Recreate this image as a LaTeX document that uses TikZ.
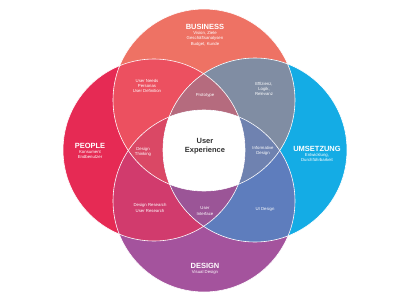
\documentclass[tikz,border=0pt]{standalone}
\usepackage{fontspec}
\setmainfont{Liberation Sans}
\definecolor{cT}{HTML}{EE7264}
\definecolor{cL}{HTML}{E62A54}
\definecolor{cR}{HTML}{14ACE5}
\definecolor{cB}{HTML}{A4539D}
\definecolor{cTL}{HTML}{EC5060}
\definecolor{cTR}{HTML}{808DA3}
\definecolor{cLB}{HTML}{D13B6D}
\definecolor{cRB}{HTML}{5E7DBD}
\definecolor{cTLR}{HTML}{B56B7E}
\definecolor{cTLB}{HTML}{DA4865}
\definecolor{cTRB}{HTML}{6F82B0}
\definecolor{cLRB}{HTML}{9B5597}
\definecolor{uxtext}{HTML}{333333}
\begin{document}
\begin{tikzpicture}[x=1pt,y=-1pt,
  title/.style={text=white,font=\bfseries\fontsize{7.5}{8}\selectfont,inner sep=0pt},
  sub/.style={text=white,align=center,font=\fontsize{4.3}{5.4}\selectfont,inner sep=0pt},
  ux/.style={text=uxtext,align=center,font=\bfseries\fontsize{7.5}{9}\selectfont,inner sep=0pt},
  rim/.style={draw=white,line width=0.6pt}]
\useasboundingbox (0,0) rectangle (400,300);
\def\cTop{(204,100) circle (91)}
\def\cLeft{(154,150) circle (91)}
\def\cRight{(255,150) circle (92)}
\def\cBot{(204,201) circle (91)}
% base circles
\fill[cT] \cTop;
\fill[cL] \cLeft;
\fill[cR] \cRight;
\fill[cB] \cBot;
% pairs
\begin{scope}\clip \cTop; \fill[cTL] \cLeft; \fill[cTR] \cRight; \end{scope}
\begin{scope}\clip \cBot; \fill[cLB] \cLeft; \fill[cRB] \cRight; \end{scope}
% triples
\begin{scope}\clip \cTop; \clip \cLeft; \fill[cTLR] \cRight; \fill[cTLB] \cBot; \end{scope}
\begin{scope}\clip \cBot; \clip \cRight; \fill[cTRB] \cTop; \fill[cLRB] \cLeft; \end{scope}
% all four
\begin{scope}\clip \cTop; \clip \cLeft; \clip \cRight; \fill[white] \cBot; \end{scope}
% outlines
\draw[rim] \cTop; \draw[rim] \cLeft; \draw[rim] \cRight; \draw[rim] \cBot;
% labels
\node[title] (bus) at (205,27) {BUSINESS};
\node[sub,anchor=north] (bussub) at (205,31) {Vision, Ziele\\Geschäftsanalysen\\Budget, Kunde};
\node[title] (peo) at (90,146) {PEOPLE};
\node[sub,anchor=north] (peosub) at (90,150) {Konsument\\Endbenutzer};
\node[title] (ums) at (317,149) {UMSETZUNG};
\node[sub,anchor=north] (umssub) at (317,153) {Entwicklung,\\Durchführbarkeit};
\node[title] (des) at (205,266) {DESIGN};
\node[sub,anchor=north] (dessub) at (205,270) {Visual Design};
\node[sub] (needs) at (147,86) {User Needs\\Personas\\User Definition};
\node[sub] (proto) at (205,95) {Prototype};
\node[sub] (eff) at (264,89) {Effizienz,\\Logik,\\Relevanz};
\node[sub] (dt) at (143,152) {Design\\Thinking};
\node[sub] (info) at (263,151) {Informative\\Design};
\node[sub] (res) at (150,208) {Design Research\\User Research};
\node[sub] (ui) at (205,211) {User\\Interface};
\node[sub] (uid) at (265,209) {UI Design};
\node[ux] (uxn) at (205,146) {User\\Experience};
\end{tikzpicture}
\end{document}
